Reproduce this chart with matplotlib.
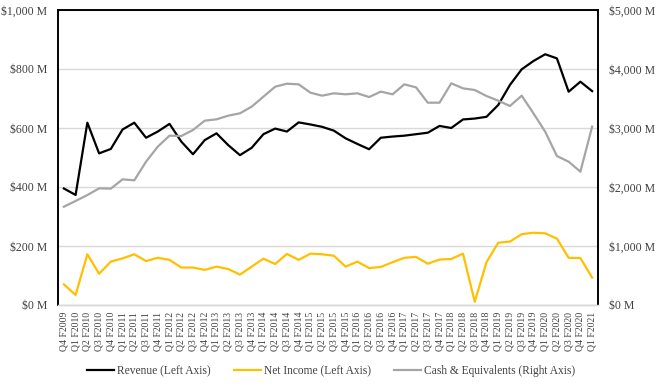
import matplotlib
matplotlib.use("Agg")
import matplotlib.pyplot as plt
from matplotlib.ticker import FuncFormatter

quarters = ["Q4 F2009"] + [f"Q{q} F{y}" for y in range(2010, 2021) for q in range(1, 5)] + ["Q1 F2021"]

revenue = [395, 373, 618, 514, 529, 595, 618, 567, 588, 614,
           554, 511, 559, 582, 542, 508, 533, 579, 598, 588,
           619, 612, 604, 591, 565, 546, 528, 567, 571, 574,
           579, 584, 607, 600, 629, 632, 638, 678, 746, 799,
           827, 850, 836, 723, 757, 725]

net_income = [70, 34, 172, 106, 147, 158, 172, 149, 160, 153,
              127, 127, 119, 130, 122, 103, 130, 157, 139, 173,
              153, 174, 172, 167, 130, 147, 125, 129, 145, 160,
              163, 140, 154, 156, 174, 11, 145, 211, 215, 240,
              245, 243, 225, 160, 159, 93]

cash = [1666, 1763, 1864, 1977, 1972, 2130, 2113, 2429, 2684, 2870,
        2864, 2966, 3124, 3147, 3209, 3249, 3362, 3531, 3700, 3751,
        3740, 3599, 3548, 3588, 3571, 3588, 3525, 3616, 3571, 3740,
        3689, 3429, 3429, 3757, 3672, 3644, 3542, 3463, 3373, 3548,
        3249, 2938, 2525, 2429, 2260, 3023]

left_ticks = [0, 200, 400, 600, 800, 1000]
right_ticks = [0, 1000, 2000, 3000, 4000, 5000]

plt.rcParams['font.family'] = ['Liberation Serif', 'DejaVu Serif']

fig = plt.figure(figsize=(6.6, 3.86), dpi=100)
ax = fig.add_axes([58/660, 1 - 305/386, 540/660, 295/386])
ax2 = ax.twinx()

x = list(range(len(quarters)))
l1, = ax.plot(x, revenue, color='black', lw=1.6, label='Revenue (Left Axis)')
l2, = ax.plot(x, net_income, color='#FFC000', lw=1.6, label='Net Income (Left Axis)')
l3, = ax2.plot(x, cash, color='#A5A5A5', lw=1.6, label='Cash & Equivalents (Right Axis)')

ax.set_xlim(-0.5, len(quarters) - 0.5)
ax.set_ylim(0, 1000)
ax2.set_ylim(0, 5000)
ax.set_yticks(left_ticks)
ax2.set_yticks(right_ticks)
fmt = FuncFormatter(lambda v, p: f"${v:,.0f} M")
ax.yaxis.set_major_formatter(fmt)
ax2.yaxis.set_major_formatter(fmt)

ax.set_xticks(x)
ax.set_xticklabels(quarters, rotation=90, fontsize=7, color='#404040')
ax.tick_params(axis='x', length=0, pad=5)
ax.tick_params(axis='y', length=0, pad=8, labelsize=8.5, labelcolor='#404040')
ax2.tick_params(axis='y', length=0, pad=8, labelsize=8.5, labelcolor='#404040')

ax.grid(axis='y', color='#D9D9D9', lw=1)
ax.set_axisbelow(True)
for a in (ax, ax2):
    for s in ('left', 'top', 'right'):
        a.spines[s].set_color('black')
        a.spines[s].set_linewidth(1.2)
    a.spines['bottom'].set_color('#D9D9D9')
    a.spines['bottom'].set_linewidth(1)

fig.legend(handles=[l1, l2, l3], loc='center', bbox_to_anchor=(0.502, 0.039),
           ncol=3, frameon=False, fontsize=8.3, handlelength=2.3,
           columnspacing=2.0, handletextpad=0.3, labelcolor='#404040')

fig.savefig('out.png', dpi=100)
